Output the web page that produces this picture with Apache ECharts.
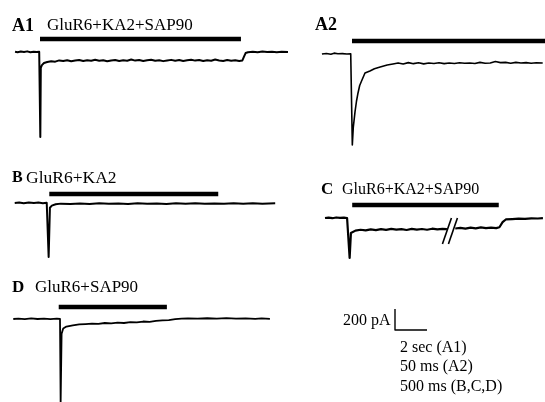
<!DOCTYPE html>
<html><head><meta charset="utf-8">
<script src="https://cdn.jsdelivr.net/npm/echarts/dist/echarts.min.js"></script>
<style>html,body{margin:0;padding:0;background:#fff}#chart{width:545px;height:402px}</style>
</head><body><div id="chart"></div>
<script>
// ---------- DATA (time, current in pA) ----------
// A1: time in s
const a1Trace = [[-1.56,2],[-1.4,-3],[-1.2,4],[-1.0,0],[-0.8,6],[-0.6,-2],[-0.4,3],[-0.2,-1],[-0.05,2],[0,0],[0.02,-810],[0.05,-150],[0.12,-125],[0.25,-105],[0.45,-95],[0.7,-88],[0.95,-92],[1.2,-80],[1.45,-86],[1.7,-78],[1.95,-88],[2.2,-82],[2.45,-76],[2.7,-86],[2.95,-79],[3.2,-84],[3.45,-74],[3.7,-83],[3.95,-78],[4.2,-88],[4.45,-80],[4.7,-76],[4.95,-85],[5.2,-79],[5.45,-83],[5.7,-72],[5.95,-82],[6.2,-77],[6.45,-86],[6.7,-79],[6.95,-74],[7.2,-84],[7.45,-78],[7.7,-87],[7.95,-80],[8.2,-75],[8.45,-83],[8.7,-77],[8.95,-85],[9.2,-79],[9.45,-73],[9.7,-82],[9.95,-76],[10.2,-86],[10.45,-78],[10.7,-84],[10.95,-72],[11.2,-80],[11.45,-85],[11.7,-77],[11.95,-83],[12.2,-79],[12.45,-86],[12.65,-80],[12.75,-45],[12.85,-10],[13.0,-2],[13.3,3],[13.6,-2],[13.9,4],[14.2,0],[14.5,3],[14.8,-2],[15.1,2],[15.5,0]];
const a1Drug = [0, 12.56];
// A2: time in ms
const a2Trace = [[-47,0],[-40,5],[-33,-3],[-28,8],[-22,2],[-15,4],[-8,0],[-2,2],[0,0],[0.5,-867],[2,-700],[4.7,-552],[7,-450],[9.4,-371],[12,-300],[15.6,-248],[20.3,-181],[28,-162],[35,-140],[44,-124],[55,-105],[64,-95],[72,-85],[80,-95],[88,-82],[96,-92],[104,-84],[112,-94],[120,-86],[128,-90],[136,-83],[144,-92],[152,-86],[160,-90],[168,-84],[176,-88],[184,-86],[192,-90],[200,-80],[208,-88],[216,-86],[224,-72],[232,-82],[240,-80],[248,-88],[256,-80],[264,-86],[272,-82],[280,-88],[288,-84],[298,-86]];
const a2Drug = [0, 305];
// B: time in s
const bTrace = [[-0.52,0],[-0.45,4],[-0.38,-3],[-0.3,5],[-0.22,0],[-0.15,4],[-0.08,-2],[-0.02,2],[0,0],[0.01,-514],[0.03,-45],[0.06,-25],[0.12,-12],[0.2,-6],[0.35,-10],[0.5,-4],[0.65,-9],[0.8,-3],[0.95,-8],[1.1,-5],[1.25,-10],[1.4,-3],[1.55,-8],[1.7,-4],[1.85,-9],[2.0,-3],[2.15,-7],[2.3,-2],[2.45,-8],[2.6,-4],[2.75,-6],[2.9,-2],[3.05,-7],[3.2,-3],[3.35,-6],[3.55,-3]];
const bDrug = [0.02, 2.66];
// C: time in s (trace broken between the two segments)
const cTraceBefore = [[-0.375,0],[-0.32,4],[-0.26,-2],[-0.2,5],[-0.14,1],[-0.08,4],[-0.03,0],[0,0],[0.01,-381],[0.03,-143],[0.06,-130],[0.1,-120],[0.18,-112],[0.26,-118],[0.34,-108],[0.42,-115],[0.5,-106],[0.58,-113],[0.66,-104],[0.74,-111],[0.82,-106],[0.9,-114],[0.98,-103],[1.06,-110],[1.14,-105],[1.22,-112],[1.3,-102],[1.38,-109],[1.46,-104],[1.53,-106]];
const cTraceAfter = [[1.66,-100],[1.74,-94],[1.82,-101],[1.9,-92],[1.98,-98],[2.06,-90],[2.14,-97],[2.22,-91],[2.3,-96],[2.35,-88],[2.4,-40],[2.45,-14],[2.55,-10],[2.65,-6],[2.75,-9],[2.85,-3],[2.95,-5],[3.03,-2]];
const cDrug = [0.05, 2.34];
const cBreakAt = 1.53;
// D: time in s
const dTrace = [[-0.73,0],[-0.65,4],[-0.55,-2],[-0.45,5],[-0.35,0],[-0.25,4],[-0.15,-1],[-0.05,3],[0,0],[0.01,-800],[0.025,-140],[0.05,-90],[0.1,-72],[0.2,-60],[0.3,-52],[0.4,-48],[0.5,-44],[0.6,-46],[0.7,-38],[0.8,-42],[0.9,-35],[1.0,-38],[1.1,-30],[1.2,-33],[1.3,-24],[1.4,-27],[1.5,-18],[1.6,-14],[1.7,-10],[1.8,-2],[1.9,3],[2.0,6],[2.15,3],[2.3,7],[2.45,4],[2.6,8],[2.75,3],[2.9,6],[3.05,2],[3.15,5],[3.28,2]];
const dDrug = [-0.02, 1.67];
// Scale bar
const scaleBarPA = 200;
const scaleBarMs = 500;
const panelLabels = ['A1','A2','B','C','D'];
const panelCaptions = ['GluR6+KA2+SAP90','','GluR6+KA2','GluR6+KA2+SAP90','GluR6+SAP90'];
const scaleLabels = ['200 pA','2 sec (A1)','50 ms (A2)','500 ms (B,C,D)'];

// ---------- LAYOUT ----------
const PX_PER_PA = 21 / 200;
const SERIF = '"Liberation Serif","Times New Roman",serif';

// every grid box is kept inside the 545x402 canvas
const layouts = [
  {ox:40,  oy:52,  pxPerX:16,   xr:[-1.7,15.7], yr:[-900,200], barPx:13},
  {ox:352, oy:54,  pxPerX:0.64, xr:[-50,300],   yr:[-900,200], barPx:13},
  {ox:48,  oy:203, pxPerX:64,   xr:[-0.6,3.6],  yr:[-560,200], barPx:9},
  {ox:349, oy:218, pxPerX:64,   xr:[-0.4,3.04], yr:[-420,200], barPx:13},
  {ox:60,  oy:319, pxPerX:64,   xr:[-0.8,3.4],  yr:[-780,200], barPx:12},
  {ox:395, oy:330, pxPerX:0.064,xr:[-10,600],   yr:[-20,250],  barPx:0}
];

const grids = [], xAxes = [], yAxes = [], series = [];
layouts.forEach((L, i) => {
  grids.push({
    left: L.ox + L.xr[0] * L.pxPerX,
    width: (L.xr[1] - L.xr[0]) * L.pxPerX,
    top: L.oy - L.yr[1] * PX_PER_PA,
    height: (L.yr[1] - L.yr[0]) * PX_PER_PA
  });
  xAxes.push({type:'value', gridIndex:i, min:L.xr[0], max:L.xr[1], show:false});
  yAxes.push({type:'value', gridIndex:i, min:L.yr[0], max:L.yr[1], show:false});
});

function trace(i, data, w) {
  series.push({type:'line', xAxisIndex:i, yAxisIndex:i, data:data, showSymbol:false, symbol:'none',
    clip:false, silent:true, lineStyle:{color:'#000', width:w || 1.8, join:'round'}});
}
function drugBar(i, drug) {
  const lvl = layouts[i].barPx / PX_PER_PA;
  series.push({type:'line', xAxisIndex:i, yAxisIndex:i, data:[[drug[0], lvl],[drug[1], lvl]],
    showSymbol:false, symbol:'none', clip:false, silent:true, lineStyle:{color:'#000', width:4.5, cap:'butt'}});
}

trace(0, a1Trace, 2); drugBar(0, a1Drug);
trace(1, a2Trace, 1.6); drugBar(1, a2Drug);
trace(2, bTrace, 2); drugBar(2, bDrug);
trace(3, cTraceBefore, 2.2); trace(3, cTraceAfter, 2.2); drugBar(3, cDrug);
trace(4, dTrace, 1.8); drugBar(4, dDrug);
// break marks "//" in C
(function(){
  const L = layouts[3];
  const halfW = 4.5 / L.pxPerX, halfH = 13 / PX_PER_PA, yc = -124;
  [cBreakAt, cBreakAt + 6 / L.pxPerX].forEach(xc => {
    series.push({type:'line', xAxisIndex:3, yAxisIndex:3,
      data:[[xc - halfW, yc - halfH],[xc + halfW, yc + halfH]],
      showSymbol:false, symbol:'none', clip:false, silent:true, lineStyle:{color:'#000', width:1.6}});
  });
})();
// scale bar
trace(5, [[0, scaleBarPA],[0, 0],[scaleBarMs, 0]], 1.4);

// ---------- TEXT ----------
function txt(t, x, y, size, bold) {
  return {type:'text', style:{text:t, x:x, y:y, fill:'#000', font:(bold?'bold ':'') + size + 'px ' + SERIF,
    textVerticalAlign:'middle', verticalAlign:'middle'}};
}
const graphic = [
  txt(panelLabels[0], 12, 26, 18, true), txt(panelCaptions[0], 47, 26, 17, false),
  txt(panelLabels[1], 315, 25, 18, true),
  txt(panelLabels[2], 12, 178, 16, true), txt(panelCaptions[2], 26, 178, 17.5, false),
  txt(panelLabels[3], 321, 190, 17, true), txt(panelCaptions[3], 342, 190, 16, false),
  txt(panelLabels[4], 12, 288, 17, true), txt(panelCaptions[4], 35, 288, 17, false),
  txt(scaleLabels[0], 343, 321, 16, false),
  txt(scaleLabels[1], 400, 348, 16, false),
  txt(scaleLabels[2], 400, 367, 16, false),
  txt(scaleLabels[3], 400, 387, 16, false)
];

const chart = echarts.init(document.getElementById('chart'), null, {renderer:'canvas'});
chart.setOption({
  animation:false,
  backgroundColor:'#fff',
  grid:grids, xAxis:xAxes, yAxis:yAxes, series:series, graphic:graphic
});
</script></body></html>
